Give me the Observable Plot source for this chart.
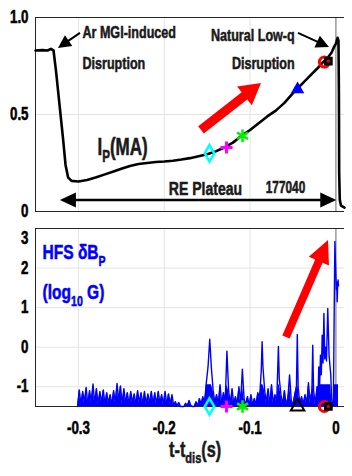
<!DOCTYPE html>
<html><head><meta charset="utf-8">
<script src="https://cdn.jsdelivr.net/npm/d3@7"></script>
<script src="https://cdn.jsdelivr.net/npm/@observablehq/plot@0.6"></script>
<style>
body{margin:0;background:#fff;}
#chart svg{display:block;}
</style></head><body><div id="chart"></div>
<script>
// ---------- data ----------
const xDomain = [-0.35, 0.01];
const tickT = [-0.3, -0.2, -0.1, 0];
const tickTLabels = ["-0.3", "-0.2", "-0.1", "0"];
const ipDomain = [0, 1];
const ipTicks = [0, 0.5, 1];
const ipTickLabels = ["0", "0.5", "1.0"];
const bDomain = [-1.5, 3];
const bTicks = [-1, 0, 1, 2, 3];
const bTickLabels = ["-1", "0", "1", "2", "3"];

// plasma current Ip (MA) vs t - t_dis (s)
const ipCurve = [
  [-0.35,0.83],[-0.342,0.832],[-0.336,0.83],[-0.332,0.838],[-0.329,0.83],[-0.326,0.72],[-0.322,0.55],
  [-0.318,0.38],[-0.315,0.24],[-0.312,0.175],[-0.308,0.158],[-0.300,0.155],[-0.29,0.162],[-0.28,0.175],
  [-0.27,0.19],[-0.26,0.205],[-0.25,0.22],[-0.24,0.235],[-0.23,0.245],[-0.22,0.25],[-0.21,0.255],
  [-0.20,0.258],[-0.19,0.262],[-0.18,0.268],[-0.17,0.275],[-0.16,0.285],[-0.15,0.295],[-0.14,0.31],
  [-0.13,0.33],[-0.12,0.355],[-0.11,0.39],[-0.10,0.42],[-0.09,0.455],[-0.08,0.49],[-0.07,0.52],
  [-0.06,0.56],[-0.05,0.61],[-0.04,0.655],[-0.03,0.70],[-0.02,0.745],[-0.015,0.77],[-0.01,0.79],
  [-0.005,0.82],[-0.002,0.85],[0.0,0.865],[0.002,0.895],[0.003,0.88],[0.0035,0.6],[0.0038,0.2],
  [0.0045,0.06],[0.006,0.03],[0.01,0.02]
];

// HFS dB_p (log10 G) vs t - t_dis (s)
const hfs = [
  [-0.301,-1.5],[-0.299,-1.08],[-0.297,-1.45],[-0.295,-1.12],[-0.293,-1.4],[-0.291,-1.02],[-0.289,-1.45],
  [-0.287,-1.1],[-0.285,-1.38],[-0.283,-0.93],[-0.281,-1.42],[-0.279,-1.05],[-0.277,-1.45],[-0.275,-1.12],
  [-0.273,-1.4],[-0.271,-1.08],[-0.269,-1.45],[-0.267,-1.15],[-0.265,-1.42],[-0.263,-1.2],[-0.261,-1.45],
  [-0.259,-1.1],[-0.257,-1.4],[-0.255,-0.92],[-0.253,-1.35],[-0.251,-0.98],[-0.249,-1.45],[-0.247,-1.05],
  [-0.245,-1.42],[-0.243,-1.15],[-0.241,-1.45],[-0.239,-1.12],[-0.237,-1.4],[-0.235,-1.18],[-0.233,-1.45],
  [-0.231,-1.1],[-0.229,-1.42],[-0.227,-1.15],[-0.225,-1.45],[-0.223,-1.12],[-0.221,-1.45],[-0.219,-1.18],
  [-0.217,-1.42],[-0.215,-1.12],[-0.213,-1.45],[-0.211,-1.15],[-0.209,-1.45],[-0.207,-1.12],[-0.205,-1.42],
  [-0.203,-1.2],[-0.201,-1.45],[-0.199,-1.12],[-0.197,-1.45],[-0.195,-1.18],[-0.193,-1.45],[-0.191,-1.2],
  [-0.189,-1.48],[-0.187,-1.38],[-0.185,-1.48],[-0.183,-1.4],[-0.181,-1.5],[-0.179,-1.5],[-0.177,-1.5],
  [-0.175,-1.42],[-0.173,-1.48],[-0.171,-1.35],[-0.169,-1.48],[-0.167,-1.5],[-0.165,-1.5],[-0.163,-1.38],
  [-0.161,-1.48],[-0.159,-1.3],[-0.157,-1.45],[-0.155,-1.25],[-0.153,-1.4],[-0.151,-0.9],[-0.149,-0.5],
  [-0.147,0.2],[-0.145,-0.55],[-0.143,-1.1],[-0.141,-1.4],[-0.139,-1.2],[-0.137,-1.45],[-0.135,-0.95],
  [-0.133,-1.45],[-0.131,-1.15],[-0.129,-1.4],[-0.127,-0.1],[-0.125,-1.1],[-0.123,-1.45],[-0.121,-1.05],
  [-0.119,-1.45],[-0.117,-1.25],[-0.115,-1.45],[-0.113,-1.0],[-0.111,-1.4],[-0.109,-0.56],[-0.107,-1.3],
  [-0.105,-1.45],[-0.103,-1.25],[-0.101,-1.48],[-0.099,-1.2],[-0.097,-1.45],[-0.095,-1.3],[-0.093,-1.45],
  [-0.091,-1.15],[-0.089,-1.3],[-0.087,-0.6],[-0.086,0.14],[-0.085,-0.5],[-0.083,-1.1],[-0.081,-1.4],
  [-0.079,-1.05],[-0.077,-1.45],[-0.075,-0.95],[-0.073,-1.42],[-0.071,-1.2],[-0.069,-1.4],[-0.067,0.02],
  [-0.066,-0.8],[-0.064,-1.2],[-0.062,-1.45],[-0.060,-1.1],[-0.058,-1.45],[-0.056,-1.3],[-0.054,-0.7],
  [-0.052,-1.35],[-0.050,-1.45],[-0.048,-1.2],[-0.046,-1.0],[-0.045,0.32],[-0.044,-1.0],[-0.042,-1.45],
  [-0.040,-1.25],[-0.038,-1.45],[-0.036,-1.2],[-0.034,-1.45],[-0.032,-0.9],[-0.030,-1.4],[-0.028,-1.1],
  [-0.027,0.05],[-0.026,-1.1],[-0.024,-1.45],[-0.022,-1.0],[-0.021,-1.4],[-0.020,-0.5],[-0.019,-1.0],
  [-0.018,-0.2],[-0.017,-0.7],[-0.016,0.3],[-0.015,-0.4],[-0.014,0.85],[-0.013,-0.3],[-0.012,0.0],
  [-0.011,-0.35],[-0.0095,0.98],[-0.008,-0.2],[-0.007,-0.45],[-0.006,-0.7],[-0.005,-1.3],[-0.004,-1.5],
  [-0.003,-1.45],[-0.002,0.9],[-0.0012,2.67],[-0.0006,2.2],[0.0,1.8],[0.0005,1.45],[0.001,1.65],
  [0.0015,1.15],[0.002,1.55],[0.0025,1.7],[0.003,1.55]
];

// event markers
const eventNames = ["diamond", "plus", "asterisk", "triangle", "circle", "square"];
const eventT = [-0.1473, -0.1275, -0.1088, -0.0447, -0.0135, -0.0088];
const eventIp = [0.30, 0.33, 0.39, 0.63, 0.77, 0.775];

// annotations (data units)
const arLabels = [
  {t: -0.2953, v: 0.925, text: "Ar MGI-induced"},
  {t: -0.2953, v: 0.763, text: "Disruption"}
];
const lowqLabels = [
  {t: -0.048, v: 0.907, text: "Natural Low-q"},
  {t: -0.048, v: 0.763, text: "Disruption"}
];
const ipLabel = [{t: -0.2778, v: 0.33, text: "IP(MA)"}];
const plateauLabel = [{t: -0.152, v: 0.119, text: "RE Plateau"}];
const shotLabel = [{t: -0.0587, v: 0.124, text: "177040"}];
const blackArrows = [[-0.2976, 0.918, -0.3233, 0.840], [-0.0436, 0.918, -0.0075, 0.845]];
const plateauArrow = [[-0.16, 0.057, -0.321, 0.057], [-0.16, 0.057, 0.001, 0.057]];
const redArrowTop = [[-0.1566, 0.418, -0.0867, 0.66]];
const redArrowBottom = [[-0.0576, 0.244, -0.0086, 2.696]];
const bLabels = [
  {t: -0.3418, v: 2.39, text: "HFS δBP"},
  {t: -0.3418, v: 1.38, text: "(log10 G)"}
];
const xLabel = [{t: -0.164, text: "t-tdis(s)"}];

// ---------- styles ----------
const FONT = "'Liberation Sans',Arial,Helvetica,sans-serif";
const CONDENSE = 0.74;
const GRID = "#e4e4e4";
const AXIS = "#262626";
const TXT = "#1a1a1a";
const NOISE_TOP = -0.95;
const markerStyle = {
  diamond: {symbol: "diamond", r: 5, stroke: "#00ffff", strokeWidth: 2.5, fill: "none"},
  plus: {symbol: "plus", r: 4, stroke: "#ff00ff", strokeWidth: 3, fill: "none"},
  asterisk: {symbol: "asterisk", r: 6, stroke: "#00ee00", strokeWidth: 2.5, fill: "none"},
  triangle: {symbol: "triangle", r: 5, stroke: "none", fill: "#0000ff"},
  circle: {symbol: "circle", r: 5, stroke: "#ff0000", strokeWidth: 3, fill: "none"},
  square: {symbol: "square", r: 3.2, stroke: "black", strokeWidth: 3, fill: "#ff0000"}
};
const markerStyleBottom = Object.assign({}, markerStyle, {
  triangle: {symbol: "triangle", r: 5, stroke: "black", strokeWidth: 2, fill: "none"}
});

function arrowPath(x0, y0, x1, y1, sw, hl, hw) {
  const dx = x1 - x0, dy = y1 - y0, L = Math.hypot(dx, dy) || 1;
  const ux = dx / L, uy = dy / L, nx = -uy, ny = ux;
  const bx = x1 - ux * hl, by = y1 - uy * hl;
  const p = [
    [x0 + nx * sw / 2, y0 + ny * sw / 2], [bx + nx * sw / 2, by + ny * sw / 2], [bx + nx * hw, by + ny * hw],
    [x1, y1], [bx - nx * hw, by - ny * hw], [bx - nx * sw / 2, by - ny * sw / 2], [x0 - nx * sw / 2, y0 - ny * sw / 2]
  ];
  return "M" + p.map(q => q.join(",")).join("L") + "Z";
}
function arrowMark(list, color, sw, hl, hw) {
  return (index, scales) => {
    const g = d3.create("svg:g");
    for (const a of list) {
      g.append("path")
        .attr("d", arrowPath(scales.x(a[0]), scales.y(a[1]), scales.x(a[2]), scales.y(a[3]), sw, hl, hw))
        .attr("fill", color).attr("stroke", "none");
    }
    return g.node();
  };
}
function markerMarks(yValues, styles) {
  return eventNames.map((name, i) => Plot.dot([i], Object.assign({x: () => eventT[i], y: () => yValues[i]}, styles[name])));
}

const chartStyle = {fontFamily: FONT, fontWeight: "bold", fontSize: "18px", color: "black", background: "white", overflow: "visible"};

// ---------- top panel ----------
const topChart = Plot.plot({
  width: 352, height: 220, marginLeft: 35, marginRight: 8, marginTop: 17, marginBottom: 9,
  style: chartStyle,
  x: {domain: xDomain, axis: null},
  y: {domain: ipDomain, ticks: ipTicks, tickFormat: d => ipTickLabels[ipTicks.indexOf(d)], tickSize: 0, tickPadding: 7, label: null},
  marks: [
    Plot.ruleX(tickT, {stroke: GRID}),
    Plot.ruleY([0.5], {stroke: GRID}),
    Plot.ruleX([0], {stroke: "#777"}),
    Plot.ruleY(ipDomain, {stroke: AXIS}),
    Plot.ruleX([xDomain[0]], {stroke: AXIS}),
    Plot.line(ipCurve, {x: d => d[0], y: d => d[1], stroke: "black", strokeWidth: 2.6}),
    arrowMark(blackArrows, "black", 2, 13, 6.5),
    arrowMark(plateauArrow, "black", 2.5, 16, 7.5),
    arrowMark(redArrowTop, "#ff0000", 9, 21, 12),
    Plot.text(arLabels, {x: "t", y: "v", text: "text", textAnchor: "start", fontSize: 17, fontWeight: "bold", fill: TXT}),
    Plot.text(lowqLabels, {x: "t", y: "v", text: "text", textAnchor: "end", fontSize: 17, fontWeight: "bold", fill: TXT}),
    Plot.text(ipLabel, {x: "t", y: "v", text: "text", textAnchor: "start", fontSize: 23, fontWeight: "bold", fill: TXT}),
    Plot.text(plateauLabel, {x: "t", y: "v", text: "text", fontSize: 19, fontWeight: "bold", fill: TXT}),
    Plot.text(shotLabel, {x: "t", y: "v", text: "text", fontSize: 16, fontWeight: "bold", fill: TXT}),
    ...markerMarks(eventIp, markerStyle)
  ]
});

// ---------- bottom panel ----------
const bottomChart = Plot.plot({
  width: 352, height: 256, marginLeft: 35, marginRight: 8, marginTop: 8, marginBottom: 70,
  style: chartStyle,
  x: {domain: xDomain, ticks: tickT, tickFormat: d => tickTLabels[tickT.indexOf(d)], tickSize: 0, tickPadding: 15, label: null},
  y: {domain: bDomain, ticks: bTicks, tickFormat: d => bTickLabels[bTicks.indexOf(d)], tickSize: 0, tickPadding: 7, label: null},
  marks: [
    Plot.ruleX(tickT, {stroke: GRID}),
    Plot.ruleY(bTicks.filter(d => d < bDomain[1]), {stroke: GRID}),
    Plot.ruleX([0], {stroke: "#777"}),
    Plot.ruleY(bDomain, {stroke: AXIS}),
    Plot.ruleX([xDomain[0]], {stroke: AXIS}),
    Plot.areaY(hfs, {x: d => d[0], y1: () => bDomain[0], y2: d => Math.min(d[1], NOISE_TOP), fill: "#0000ff"}),
    Plot.line(hfs, {x: d => d[0], y: d => d[1], stroke: "#0000ff", strokeWidth: 1.4}),
    arrowMark(redArrowBottom, "#ff0000", 8, 23, 11),
    Plot.text(bLabels, {x: "t", y: "v", text: "text", textAnchor: "start", fontSize: 21, fontWeight: "bold", fill: "#0000ff"}),
    Plot.text(xLabel, {x: "t", text: "text", frameAnchor: "bottom", dy: 50, fontSize: 22, fontWeight: "bold", fill: TXT}),
    ...markerMarks(eventIp.map(() => bDomain[0]), markerStyleBottom)
  ]
});

// subscripts
const subs = {
  "IP(MA)": [["I", 0], ["P", 1], ["(MA)", 0]],
  "HFS δBP": [["HFS δB", 0], ["P", 1]],
  "(log10 G)": [["(log", 0], ["10", 1], [" G)", 0]],
  "t-tdis(s)": [["t-t", 0], ["dis", 1], ["(s)", 0]]
};
function applySubs(svg) {
  d3.select(svg).selectAll("text").each(function () {
    const parts = subs[this.textContent];
    if (!parts) return;
    let fs = parseFloat(this.getAttribute("font-size"));
    if (!fs && this.parentNode) fs = parseFloat(this.parentNode.getAttribute("font-size"));
    if (!fs) fs = 18;
    const el = d3.select(this);
    el.text(null);
    let down = false;
    for (const [s, isSub] of parts) {
      const ts = el.append("tspan").text(s);
      if (isSub && !down) { ts.attr("dy", (0.3 * fs) + "px").attr("font-size", (0.68 * fs) + "px"); down = true; }
      else if (isSub) { ts.attr("font-size", (0.68 * fs) + "px"); }
      else if (!isSub && down) { ts.attr("dy", (-0.3 * fs) + "px"); down = false; }
    }
  });
}
// narrow, heavy (condensed bold) lettering, scaled about each text's anchor
function condense(svg) {
  d3.select(svg).selectAll("text").each(function () {
    const t = this.getAttribute("transform") || "";
    this.setAttribute("transform", (t + ` scale(${CONDENSE},1)`).trim());
  });
}
applySubs(topChart);
applySubs(bottomChart);
condense(topChart);
condense(bottomChart);
// the top tick label of the lower panel sits a little below the frame edge, as in the source figure
d3.select(bottomChart).selectAll("text").filter(function () { return this.textContent === bTickLabels[bTickLabels.length - 1] && !this.querySelector("tspan"); })
  .attr("dy", "0.55em");

document.getElementById("chart").append(topChart, bottomChart);

// embolden after insertion (stroke in each text's own colour)
for (const svg of [topChart, bottomChart]) {
  d3.select(svg).selectAll("text").each(function () {
    const f = getComputedStyle(this).fill;
    this.setAttribute("stroke", f && f !== "none" ? f : "black");
    this.setAttribute("stroke-width", "0.55");
  });
}
</script>
</body></html>
